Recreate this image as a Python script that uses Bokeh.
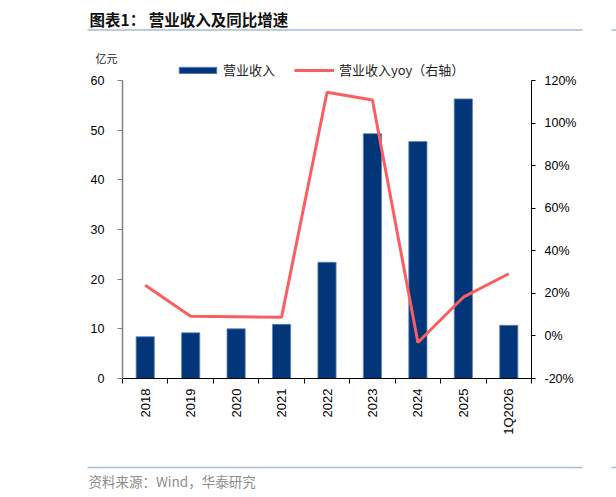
import math
from bokeh.plotting import figure
from bokeh.models import (Range1d, LinearAxis, FixedTicker, PrintfTickFormatter,
                          Label, BoxAnnotation, Legend, LegendItem, ColumnDataSource)
from bokeh.embed import file_html
from bokeh.resources import INLINE

# ---------------- data ----------------
categories = ["2018", "2019", "2020", "2021", "2022", "2023", "2024", "2025", "1Q2026"]
revenue = [8.4, 9.2, 10.0, 10.9, 23.4, 49.3, 47.7, 56.3, 10.7]          # 亿元
revenue_yoy = [23.8, 9.2, 9.0, 8.8, 114.5, 110.8, -3.1, 18.2, 29.2]    # %
left_ticks = [0, 10, 20, 30, 40, 50, 60]
right_ticks = [-20, 0, 20, 40, 60, 80, 100, 120]

# ---------------- layout / style ----------------
W, H = 616, 497
PL, PR, PT, PB = 122, 531, 80, 378      # pixel box of the plotting area
CJK = "Noto Sans CJK SC"
NUM = "Liberation Sans"
BAR = "#023679"
RED = "#F95F61"
RULE = "#a9bcd0"

n = len(categories)
centers = [i + 0.5 for i in range(n)]
src = ColumnDataSource(dict(x=centers, cat=categories, rev=revenue, yoy=revenue_yoy))

# ranges chosen so the plotting box sits at PL..PR, PT..PB on a full-canvas frame
ux = n / (PR - PL)
lo, hi = left_ticks[0], left_ticks[-1]
uy = (hi - lo) / (PB - PT)
rlo, rhi = right_ticks[0], right_ticks[-1]
ur = (rhi - rlo) / (PB - PT)

p = figure(width=W, height=H, output_backend="svg", toolbar_location=None, title=None,
           x_range=Range1d(-PL * ux, n + (W - PR) * ux),
           y_range=Range1d(lo - (H - PB) * uy, hi + PT * uy),
           x_axis_type=None, y_axis_type=None,
           min_border=0, min_border_left=0, min_border_right=0,
           min_border_top=0, min_border_bottom=0,
           outline_line_color=None, background_fill_color="white",
           border_fill_color="white")
p.extra_y_ranges = {"yoy": Range1d(rlo - (H - PB) * ur, rhi + PT * ur)}
p.grid.visible = False

bars = p.vbar(x="x", top="rev", width=0.4, source=src, fill_color=BAR,
              line_color="#5f82b8", line_width=0.8)
line = p.line(x="x", y="yoy", source=src, y_range_name="yoy",
              line_color=RED, line_width=3)

# x axis: labels at centres, ticks at category boundaries
xa = LinearAxis(fixed_location=lo, bounds=(0, n),
                ticker=FixedTicker(ticks=centers, minor_ticks=list(range(n + 1))))
xa.major_label_overrides = {c: lab for c, lab in zip(centers, categories)}
xa.major_tick_in = 0
xa.major_tick_out = 0
xa.minor_tick_in = 0
xa.minor_tick_out = 5
xa.minor_tick_line_color = "black"
xa.axis_line_color = "black"
xa.major_label_orientation = math.pi / 2
xa.major_label_standoff = 5
xa.major_label_text_font = NUM
xa.major_label_text_font_size = "13px"
xa.major_label_text_color = "black"
p.add_layout(xa, "below")

# left axis
ya = LinearAxis(fixed_location=0, bounds=(lo, hi),
                ticker=FixedTicker(ticks=left_ticks, minor_ticks=[]))
ya.major_tick_in = 0
ya.major_tick_out = 5
ya.axis_line_color = "#808080"
ya.axis_line_width = 1.5
ya.major_tick_line_color = "#808080"
ya.major_label_standoff = 13
ya.major_label_text_font = NUM
ya.major_label_text_font_size = "12.5px"
ya.major_label_text_color = "black"
p.add_layout(ya, "left")

# right axis
ra = LinearAxis(y_range_name="yoy", fixed_location=n, bounds=(rlo, rhi),
                ticker=FixedTicker(ticks=right_ticks, minor_ticks=[]),
                formatter=PrintfTickFormatter(format="%d%%"))
ra.major_tick_in = 0
ra.major_tick_out = 4
ra.axis_line_color = "black"
ra.major_tick_line_color = "black"
ra.major_label_standoff = 9
ra.major_label_text_font = NUM
ra.major_label_text_font_size = "12.5px"
ra.major_label_text_color = "black"
p.add_layout(ra, "right")

# legend (two pieces so that each swatch gets its own width)
leg_common = dict(orientation="horizontal", padding=0, margin=0,
                  border_line_color=None, background_fill_alpha=0,
                  label_text_font=CJK, label_text_font_size="13px",
                  label_text_color="#222222", glyph_height=8)
p.add_layout(Legend(items=[LegendItem(label="营业收入", renderers=[bars])],
                    location=(174, H - 79), glyph_width=47, label_standoff=2,
                    **leg_common))
p.add_layout(Legend(items=[LegendItem(label="营业收入yoy（右轴）", renderers=[line])],
                    location=(294, H - 79), glyph_width=40, label_standoff=5,
                    **leg_common))

def sy(py):
    return H - py

# title, unit, source
p.add_layout(Label(x=89, y=sy(18.5), x_units="screen", y_units="screen",
                   text="图表1：  营业收入及同比增速", text_font=CJK,
                   text_font_style="bold", text_font_size="15.5px",
                   text_baseline="middle", text_color="#111111"))
p.add_layout(Label(x=95, y=sy(57.5), x_units="screen", y_units="screen",
                   text="亿元", text_font=CJK, text_font_size="11px",
                   text_baseline="middle", text_color="#222222"))
p.add_layout(Label(x=88, y=sy(480), x_units="screen", y_units="screen",
                   text="资料来源：Wind，华泰研究", text_font=CJK,
                   text_font_size="13.5px", text_baseline="middle",
                   text_color="#8c8c8c"))

# rules (and the start of the neighbouring chart's rules at the right edge)
for py in (29.5, 467):
    for x0, x1 in ((87, 582), (611, W + 5)):
        p.add_layout(BoxAnnotation(left=x0, right=x1, top=sy(py - 0.75),
                                   bottom=sy(py + 0.75), left_units="screen",
                                   right_units="screen", top_units="screen",
                                   bottom_units="screen", fill_color=RULE,
                                   fill_alpha=1, line_color=None))

open("out.html", "w").write(file_html(p, INLINE))
